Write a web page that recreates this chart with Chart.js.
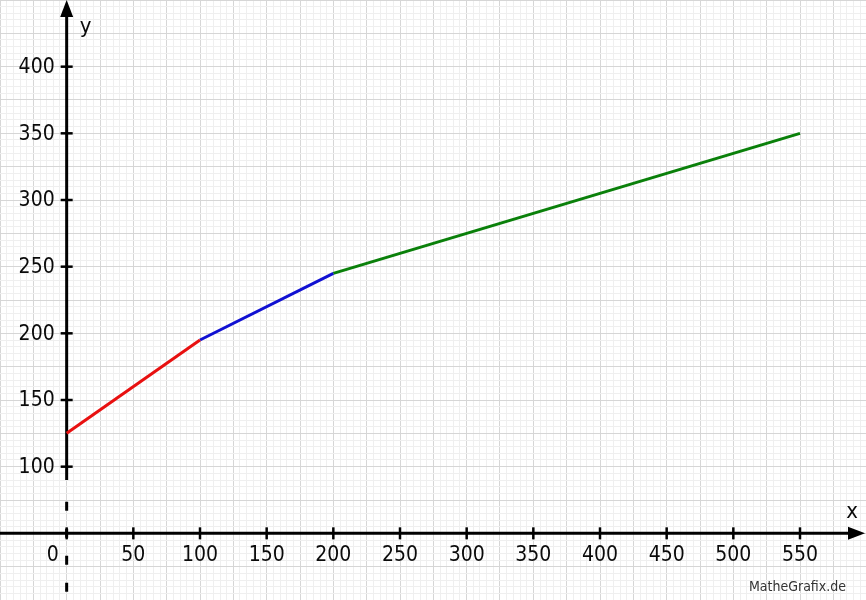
<!DOCTYPE html>
<html>
<head>
<meta charset="utf-8">
<script src="https://cdn.jsdelivr.net/npm/chart.js@4/dist/chart.umd.min.js"></script>
<style>
  html, body { margin: 0; padding: 0; background: #ffffff; }
  #wrap { width: 866px; height: 600px; }
</style>
</head>
<body>
<div id="wrap"><canvas id="c" width="866" height="600"></canvas></div>
<script>
// ---- data ----
const redX = [0, 100];
const redY = [125, 195];
const blueX = [100, 200];
const blueY = [195, 245];
const greenX = [200, 550];
const greenY = [245, 350];

// ---- tick labels ----
const xTickValues = [0, 50, 100, 150, 200, 250, 300, 350, 400, 450, 500, 550];
const yTickValues = [100, 150, 200, 250, 300, 350, 400];
const xAxisName = 'x';
const yAxisName = 'y';
const creditText = 'MatheGrafix.de';

// ---- view window (value space) ----
const xMin = -50, xMax = 599.5;
const yMin = 0, yMax = 450;
const xAxisAtY = 50;      // x-axis drawn here (axis break below 100)
const yBreakFrom = 90;    // y-axis solid down to this value, dashed below
const gridStep = 5, gridMajor = 25;

const FONT = "'DejaVu Sans Condensed', 'Open Sans', 'DejaVu Sans', sans-serif";

function pts(xs, ys) { return xs.map((x, i) => ({ x: x, y: ys[i] })); }

const axesPlugin = {
  id: 'mathAxes',
  beforeDatasetsDraw(chart) {
    const { ctx, scales } = chart;
    const xs = scales.x, ys = scales.y;
    const area = chart.chartArea;
    const ox = xs.getPixelForValue(0);
    const oy = ys.getPixelForValue(xAxisAtY);
    const arrowLen = 17, arrowHalf = 6.5;
    ctx.save();
    ctx.strokeStyle = '#000';
    ctx.fillStyle = '#000';
    ctx.lineWidth = 3;
    ctx.lineCap = 'butt';

    // x axis
    ctx.beginPath();
    ctx.moveTo(area.left, oy);
    ctx.lineTo(area.right - arrowLen + 1, oy);
    ctx.stroke();
    ctx.beginPath();
    ctx.moveTo(area.right - 1, oy);
    ctx.lineTo(area.right - 1 - arrowLen, oy - arrowHalf);
    ctx.lineTo(area.right - 1 - arrowLen, oy + arrowHalf);
    ctx.closePath();
    ctx.fill();

    // y axis solid part
    const yb = ys.getPixelForValue(yBreakFrom);
    ctx.beginPath();
    ctx.moveTo(ox, area.top + arrowLen - 1);
    ctx.lineTo(ox, yb);
    ctx.stroke();
    ctx.beginPath();
    ctx.moveTo(ox, area.top);
    ctx.lineTo(ox - arrowHalf, area.top + arrowLen);
    ctx.lineTo(ox + arrowHalf, area.top + arrowLen);
    ctx.closePath();
    ctx.fill();

    // y axis dashed (break) part
    ctx.setLineDash([9, 18]);
    ctx.beginPath();
    ctx.moveTo(ox, oy - 4.5 - 27);
    ctx.lineTo(ox, area.bottom);
    ctx.stroke();
    ctx.setLineDash([]);

    // ticks
    ctx.lineWidth = 2.5;
    xTickValues.forEach(v => {
      const px = xs.getPixelForValue(v);
      ctx.beginPath();
      ctx.moveTo(px, oy - 6);
      ctx.lineTo(px, oy + 6);
      ctx.stroke();
    });
    yTickValues.forEach(v => {
      const py = ys.getPixelForValue(v);
      ctx.beginPath();
      ctx.moveTo(ox - 6, py);
      ctx.lineTo(ox + 6, py);
      ctx.stroke();
    });

    // tick labels
    ctx.fillStyle = '#0a0a0a';
    ctx.font = '21px ' + FONT;
    ctx.textBaseline = 'middle';
    xTickValues.forEach(v => {
      const px = xs.getPixelForValue(v);
      if (v === 0) {
        ctx.textAlign = 'right';
        ctx.fillText(String(v), px - 8, oy + 22);
      } else {
        ctx.textAlign = 'center';
        ctx.fillText(String(v), px, oy + 22);
      }
    });
    ctx.textAlign = 'right';
    yTickValues.forEach(v => {
      const py = ys.getPixelForValue(v);
      ctx.fillText(String(v), ox - 12, py + 1);
    });

    // axis names
    ctx.font = '22px ' + FONT;
    ctx.textAlign = 'center';
    ctx.fillText(yAxisName, ox + 19, area.top + 27);
    ctx.fillText(xAxisName, area.right - 14, oy - 21);

    // credit
    ctx.font = '14px ' + FONT;
    ctx.fillStyle = '#333';
    ctx.textAlign = 'right';
    ctx.textBaseline = 'alphabetic';
    ctx.fillText(creditText, area.right - 20, area.bottom - 9);
    ctx.restore();
  }
};

function gridColor(ctx) {
  const v = ctx.tick ? ctx.tick.value : 0;
  const r = Math.abs(Math.round(v)) % gridMajor;
  return r === 0 ? '#d6d6d6' : '#efefef';
}

new Chart(document.getElementById('c'), {
  type: 'scatter',
  data: {
    datasets: [
      { label: 'rot', data: pts(redX, redY), borderColor: 'rgb(232,16,16)', showLine: true, borderWidth: 3, pointRadius: 0 },
      { label: 'blau', data: pts(blueX, blueY), borderColor: 'rgb(16,16,210)', showLine: true, borderWidth: 3, pointRadius: 0 },
      { label: 'grün', data: pts(greenX, greenY), borderColor: 'rgb(10,128,10)', showLine: true, borderWidth: 3, pointRadius: 0 }
    ]
  },
  options: {
    responsive: false,
    devicePixelRatio: 1,
    animation: false,
    layout: { padding: 0 },
    plugins: { legend: { display: false }, tooltip: { enabled: false } },
    events: [],
    scales: {
      x: {
        type: 'linear', min: xMin, max: xMax,
        ticks: { display: false, stepSize: gridStep, includeBounds: false, maxTicksLimit: 1000 },
        grid: { drawTicks: false, color: gridColor, lineWidth: 1 },
        border: { display: false }
      },
      y: {
        type: 'linear', min: yMin, max: yMax,
        ticks: { display: false, stepSize: gridStep, includeBounds: false, maxTicksLimit: 1000 },
        grid: { drawTicks: false, color: gridColor, lineWidth: 1 },
        border: { display: false }
      }
    }
  },
  plugins: [axesPlugin]
});
</script>
</body>
</html>
